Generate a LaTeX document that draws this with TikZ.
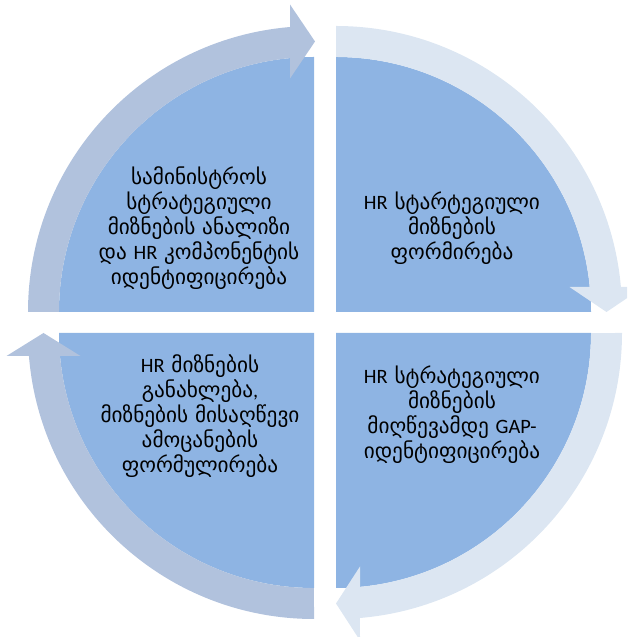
\documentclass[tikz,border=0pt]{standalone}
\usepackage{fontspec}
\setmainfont{DejaVu Sans}[Scale=1.25]
\newfontfamily\latf{Carlito}[Scale=1.2]
\usetikzlibrary{calc}
\definecolor{quadfill}{RGB}{142,180,227}
\definecolor{bandL}{RGB}{177,194,221}
\definecolor{bandR}{RGB}{220,230,242}
\begin{document}
\begin{tikzpicture}[x=1pt,y=1pt,
  txt/.style={align=center, font=\fontsize{17}{25}\selectfont, text=black, inner sep=0pt},
  quadrant/.style={fill=quadfill},
  bandleft/.style={fill=bandL},
  bandright/.style={fill=bandR}]
\useasboundingbox (0,0) rectangle (627,637);
\clip (0,0) rectangle (627,637);
% quadrants
\fill[quadrant] (336,325) -- (336,580) arc[start angle=90,end angle=0,radius=255] -- cycle;
\fill[quadrant] (314,325) -- (59,325) arc[start angle=180,end angle=90,radius=255] -- cycle;
\fill[quadrant] (314,304) -- (314,49) arc[start angle=270,end angle=180,radius=255] -- cycle;
\fill[quadrant] (336,304) -- (591,304) arc[start angle=0,end angle=-90,radius=255] -- cycle;
% top-right band (clockwise, head pointing down)
\fill[bandright] (336,611) arc[start angle=90,end angle=5.015,radius=286]
  -- (643.5,350) -- (606.5,325) -- (569.5,350) -- (589.77,350)
  arc[start angle=5.626,end angle=90,radius=255] -- cycle;
% bottom-right band (head pointing left)
\fill[bandright] (622,304) arc[start angle=0,end angle=-85.19,radius=286]
  -- (360,-3.5) -- (336,33.5) -- (360,70.5) -- (360,50.13)
  arc[start angle=-84.60,end angle=0,radius=255] -- cycle;
% bottom-left band (head pointing up)
\fill[bandleft] (314,18) arc[start angle=270,end angle=184.61,radius=286]
  -- (6.5,281) -- (43.5,304) -- (80.5,281) -- (60.04,281)
  arc[start angle=185.17,end angle=270,radius=255] -- cycle;
% top-left band (head pointing right)
\fill[bandleft] (28,325) arc[start angle=180,end angle=94.81,radius=286]
  -- (290,632.5) -- (315,595.5) -- (290,558.5) -- (290,578.87)
  arc[start angle=95.40,end angle=180,radius=255] -- cycle;
% texts
\node[txt] (tl) at (199,409) {სამინისტროს\\სტრატეგიული\\მიზნების ანალიზი\\და {\latf HR} კომპონენტის\\იდენტიფიცირება};
\node[txt] (tr) at (452,409) {{\latf HR} სტარტეგიული\\მიზნების\\ფორმირება};
\node[txt] (br) at (452,222) {{\latf HR} სტრატეგიული\\მიზნების\\მიღწევამდე {\latf GAP-}\\იდენტიფიცირება};
\node[txt] (bl) at (200,221) {{\latf HR} მიზნების\\განახლება{\latf ,}\\მიზნების მისაღწევი\\ამოცანების\\ფორმულირება};
\end{tikzpicture}
\end{document}
